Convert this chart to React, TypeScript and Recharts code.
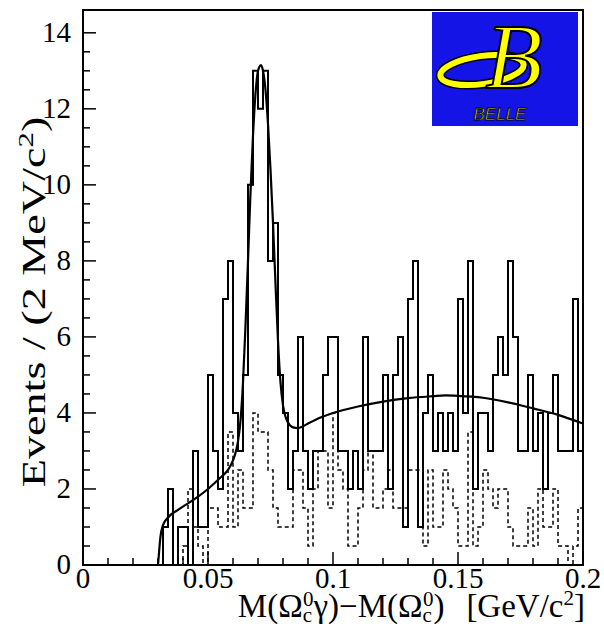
import { ComposedChart, Line, XAxis, YAxis, ReferenceArea } from "recharts";

const BIN_WIDTH = 0.002;

// signal-region events per 2 MeV/c^2 bin, 0 .. 0.2 GeV/c^2
const dataCounts = [
  0, 0, 0, 0, 0, 0, 0, 0, 0, 0,
  0, 0, 0, 0, 0, 0, 1, 2, 0, 1,
  1, 0, 3, 1, 1, 5, 3, 2, 7, 8,
  4, 3, 5, 10, 13, 12, 13, 8, 9, 5,
  4, 2, 3, 6, 3, 2, 3, 3, 5, 6,
  6, 3, 3, 2, 3, 2, 6, 3, 3, 3,
  5, 2, 5, 6, 1, 7, 8, 1, 4, 5,
  3, 4, 3, 4, 3, 7, 4, 8, 2, 4,
  4, 3, 5, 6, 5, 8, 6, 3, 3, 5,
  3, 4, 2, 4, 5, 3, 3, 3, 7, 3,
];

// sideband (scaled) events per bin
const sidebandCounts = [
  0, 0, 0, 0, 0, 0, 0, 0, 0, 0,
  0, 0, 0, 0, 0, 0, 0, 0, 0, 0,
  0.5, 2, 1, 0.5, 0, 1.5, 1.5, 1, 1, 3.5,
  1, 2.5, 1.5, 1.5, 4, 3.5, 3.5, 2.5, 1.5, 1,
  1, 1, 2.5, 2.5, 1.5, 0.5, 2, 3, 3, 1.5,
  4, 2.5, 2, 0.5, 0.5, 1.5, 2.5, 3, 1.5, 1.5,
  2, 2.5, 1.5, 1.5, 1.5, 2.5, 2.5, 2.5, 0.5, 2.5,
  1, 1, 2.5, 2, 1.5, 0.5, 0.5, 3.5, 0.5, 1,
  2.5, 2, 1.5, 2, 2, 1, 0.5, 0.5, 0.5, 1.5,
  0.5, 2, 1, 1, 2, 0.5, 0.5, 0, 0.5, 1.5,
];

// fit curve
const fitMass = [
  0.03, 0.0305, 0.031, 0.032, 0.034, 0.038, 0.045, 0.05, 0.055, 0.058,
  0.06, 0.061, 0.062, 0.063, 0.064, 0.065, 0.066, 0.067, 0.068, 0.069,
  0.07, 0.0712, 0.072, 0.073, 0.074, 0.075, 0.076, 0.077, 0.078, 0.079,
  0.08, 0.081, 0.082, 0.084, 0.086, 0.088, 0.09, 0.095, 0.1, 0.11,
  0.12, 0.13, 0.14, 0.145, 0.15, 0.16, 0.17, 0.18, 0.19, 0.2,
];
const fitEvents = [
  0, 0.4, 0.75, 1.05, 1.25, 1.45, 1.75, 2.0, 2.3, 2.5,
  2.75, 2.95, 3.25, 3.8, 4.8, 6.3, 8.0, 9.8, 11.3, 12.4,
  13.0, 13.15, 13.0, 12.5, 11.6, 10.4, 9.0, 7.4, 5.9, 4.8,
  4.2, 3.9, 3.75, 3.62, 3.6, 3.65, 3.72, 3.88, 4.0, 4.17,
  4.3, 4.39, 4.44, 4.46, 4.45, 4.4, 4.28, 4.12, 3.95, 3.72,
];

const xTicks = [
  0, 0.01, 0.02, 0.03, 0.04, 0.05, 0.06, 0.07, 0.08, 0.09, 0.1,
  0.11, 0.12, 0.13, 0.14, 0.15, 0.16, 0.17, 0.18, 0.19, 0.2,
];
const xMajor = [0, 0.05, 0.1, 0.15, 0.2];
const xLabels = ["0", "0.05", "0.1", "0.15", "0.2"];

const yTicks = [
  0, 0.5, 1, 1.5, 2, 2.5, 3, 3.5, 4, 4.5, 5, 5.5, 6, 6.5, 7,
  7.5, 8, 8.5, 9, 9.5, 10, 10.5, 11, 11.5, 12, 12.5, 13, 13.5, 14,
];
const yMajor = [0, 2, 4, 6, 8, 10, 12, 14];
const yLabels = ["0", "2", "4", "6", "8", "10", "12", "14"];

const Y_MAX = 14.6;
const FONT = "'Liberation Serif', 'Times New Roman', serif";

const toSteps = (counts: number[]) => [
  ...counts.map((n, i) => ({ x: i * BIN_WIDTH, y: n })),
  { x: counts.length * BIN_WIDTH, y: counts[counts.length - 1] },
];

const dataSteps = toSteps(dataCounts);
const sidebandSteps = toSteps(sidebandCounts);
const fitPoints = fitMass.map((x, i) => ({ x, y: fitEvents[i] }));

function XTick({ x, y, payload }: any) {
  const k = xMajor.indexOf(payload.value);
  return (
    <g>
      <line x1={x} x2={x} y1={y} y2={y - (k >= 0 ? 13 : 7)} stroke="#000" strokeWidth={1.5} />
      {k >= 0 && (
        <text x={x} y={y + 23} textAnchor="middle" fontFamily={FONT} fontSize={29} fill="#000">
          {xLabels[k]}
        </text>
      )}
    </g>
  );
}

function YTick({ x, y, payload }: any) {
  const k = yMajor.indexOf(payload.value);
  return (
    <g>
      <line x1={x} x2={x + (k >= 0 ? 13 : 7)} y1={y} y2={y} stroke="#000" strokeWidth={1.5} />
      {k >= 0 && (
        <text x={x - 12} y={y + 9} textAnchor="end" fontFamily={FONT} fontSize={29} fill="#000">
          {yLabels[k]}
        </text>
      )}
    </g>
  );
}

function Overlay() {
  return (
    <svg
      width={604}
      height={628}
      style={{ position: "absolute", left: 0, top: 0, pointerEvents: "none" }}
    >
      <text
        transform="translate(45 302) rotate(-90) scale(1.4 1)"
        textAnchor="middle"
        fontFamily={FONT}
        fontSize={33}
        fill="#000"
      >
        Events / (2 MeV/c
        <tspan dy={-12} fontSize={22}>2</tspan>
        <tspan dy={12}>)</tspan>
      </text>
      <text x={585} y={617} textAnchor="end" fontFamily={FONT} fontSize={33} fill="#000">
        M(Ω
        <tspan dy={5} fontSize={21}>c</tspan>
        <tspan dx={-9} dy={-16} fontSize={21}>0</tspan>
        <tspan dy={11}>γ)−M(Ω</tspan>
        <tspan dy={5} fontSize={21}>c</tspan>
        <tspan dx={-9} dy={-16} fontSize={21}>0</tspan>
        <tspan dy={11}>)</tspan>
        <tspan dx={22}>[GeV/c</tspan>
        <tspan dy={-12} fontSize={21}>2</tspan>
        <tspan dy={12}>]</tspan>
      </text>

      {/* BELLE logo */}
      <rect x={432} y={12} width={146} height={114} fill="#1414e6" />
      <ellipse
        cx={482}
        cy={70}
        rx={42}
        ry={14}
        transform="rotate(-8 482 70)"
        fill="none"
        stroke="#000"
        strokeWidth={9}
      />
      <ellipse
        cx={482}
        cy={70}
        rx={42}
        ry={14}
        transform="rotate(-8 482 70)"
        fill="none"
        stroke="#ffff00"
        strokeWidth={6}
      />
      <text
        x={514}
        y={88}
        textAnchor="middle"
        fontFamily={FONT}
        fontStyle="italic"
        fontSize={94}
        fill="#ffff00"
        stroke="#000"
        strokeWidth={2}
      >
        B
      </text>
      <text
        x={500}
        y={120}
        textAnchor="middle"
        fontFamily="'Liberation Sans', Arial, sans-serif"
        fontStyle="italic"
        fontSize={17}
        fill="#ffff00"
        stroke="#000"
        strokeWidth={0.8}
      >
        BELLE
      </text>
    </svg>
  );
}

export default function App() {
  return (
    <div
      style={{ position: "absolute", left: 0, top: 0, width: 604, height: 628, background: "#fff" }}
    >
      <ComposedChart width={604} height={628} margin={{ top: 10, right: 21, bottom: 0, left: 0 }}>
        <XAxis
          type="number"
          dataKey="x"
          domain={[0, 0.2]}
          ticks={xTicks}
          interval={0}
          tickSize={0}
          tickMargin={0}
          tick={<XTick />}
          axisLine={{ stroke: "#000", strokeWidth: 2 }}
          height={63}
          allowDataOverflow
        />
        <YAxis
          type="number"
          domain={[0, Y_MAX]}
          ticks={yTicks}
          interval={0}
          tickSize={0}
          tickMargin={0}
          tick={<YTick />}
          axisLine={{ stroke: "#000", strokeWidth: 2 }}
          width={83}
          allowDataOverflow
        />
        <ReferenceArea
          x1={0}
          x2={0.2}
          y1={0}
          y2={Y_MAX}
          fill="none"
          stroke="#000"
          strokeWidth={2}
          ifOverflow="visible"
        />
        <Line
          data={sidebandSteps}
          dataKey="y"
          type="stepAfter"
          stroke="#000"
          strokeWidth={1.5}
          strokeDasharray="4 3"
          dot={false}
          isAnimationActive={false}
        />
        <Line
          data={dataSteps}
          dataKey="y"
          type="stepAfter"
          stroke="#000"
          strokeWidth={2}
          dot={false}
          isAnimationActive={false}
        />
        <Line
          data={fitPoints}
          dataKey="y"
          type="monotone"
          stroke="#000"
          strokeWidth={2.2}
          dot={false}
          isAnimationActive={false}
        />
      </ComposedChart>
      <Overlay />
    </div>
  );
}
